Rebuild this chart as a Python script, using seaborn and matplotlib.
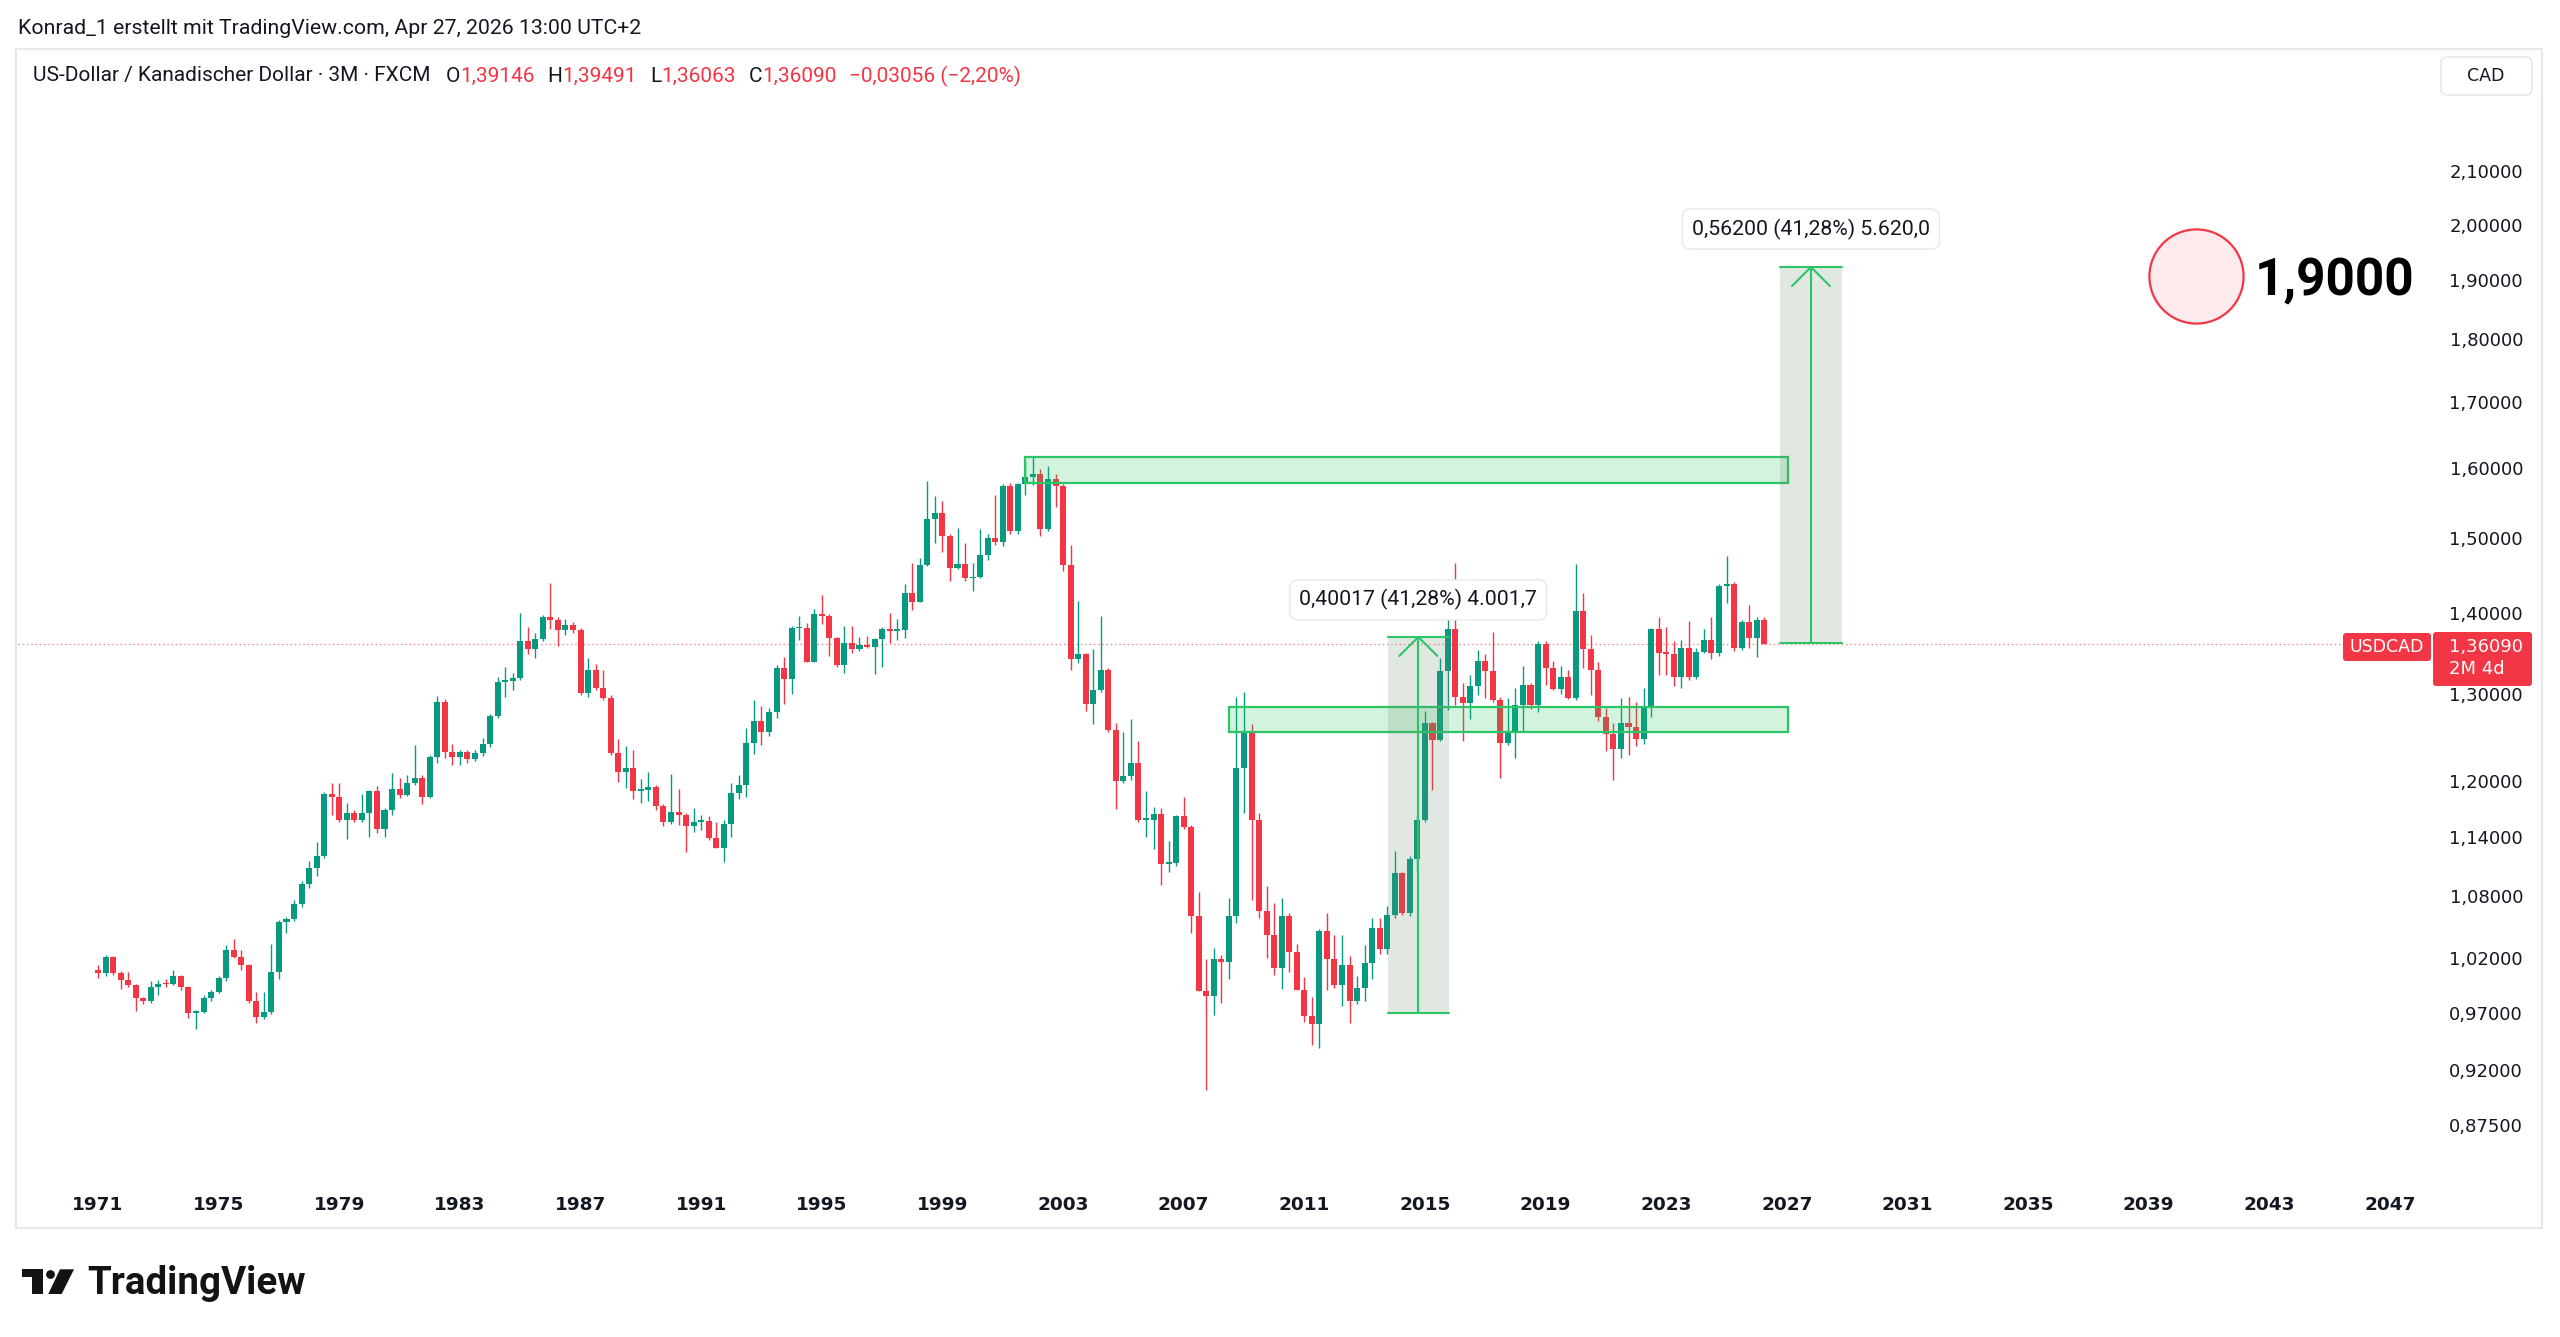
import numpy as np
import pandas as pd
import seaborn as sns
import matplotlib
matplotlib.use("Agg")
import matplotlib.pyplot as plt
import matplotlib.transforms as mtransforms
from matplotlib.patches import Rectangle, Polygon, Circle, FancyBboxPatch
from matplotlib.ticker import FixedLocator, NullLocator

W, H = 2560, 1337

# ---- data: USDCAD, quarterly candles from 1971 Q1 ----
start_year = 1971
first_open = 1.0087
closes = [
    1.0057, 1.0205, 1.0062, 0.9995, 0.9949, 0.9829, 0.9808, 0.9927, 0.9961, 0.9955,
    1.0028, 0.9927, 0.9698, 0.9705, 0.9835, 0.9885, 1.0013, 1.0273, 1.0211, 1.0137,
    0.9808, 0.9658, 0.9704, 1.0065, 1.0544, 1.0571, 1.0714, 1.0916, 1.1080, 1.1200,
    1.1860, 1.1828, 1.1578, 1.1648, 1.1578, 1.1655, 1.1890, 1.1478, 1.1684, 1.1914,
    1.1850, 1.1973, 1.2037, 1.1828, 1.2270, 1.2898, 1.2326, 1.2263, 1.2320, 1.2245,
    1.2310, 1.2410, 1.2737, 1.3140, 1.3150, 1.3184, 1.3649, 1.3540, 1.3671, 1.3944,
    1.3911, 1.3780, 1.3850, 1.3780, 1.3012, 1.3286, 1.3073, 1.2953, 1.2316, 1.2095,
    1.2139, 1.1893, 1.1900, 1.1937, 1.1731, 1.1552, 1.1659, 1.1630, 1.1513, 1.1560,
    1.1565, 1.1383, 1.1286, 1.1534, 1.1864, 1.1954, 1.2421, 1.2678, 1.2554, 1.2787,
    1.3307, 1.3177, 1.3805, 1.3810, 1.3388, 1.3983, 1.3960, 1.3678, 1.3348, 1.3616,
    1.3546, 1.3600, 1.3575, 1.3672, 1.3797, 1.3770, 1.3780, 1.4256, 1.4147, 1.4632,
    1.5258, 1.5342, 1.5031, 1.4596, 1.4641, 1.4453, 1.4470, 1.4767, 1.5004, 1.4940,
    1.5737, 1.5095, 1.5755, 1.5868, 1.5905, 1.5123, 1.5833, 1.5732, 1.4632, 1.3426,
    1.3478, 1.2880, 1.3045, 1.3285, 1.2569, 1.1998, 1.2059, 1.2200, 1.1578, 1.1580,
    1.1637, 1.1117, 1.1130, 1.1615, 1.1503, 1.0604, 0.9897, 0.9847, 1.0194, 1.0160,
    1.0604, 1.2144, 1.2560, 1.1578, 1.0644, 1.0420, 1.0110, 1.0600, 1.0256, 0.9904,
    0.9670, 0.9595, 1.0456, 1.0186, 0.9950, 1.0134, 0.9805, 0.9920, 1.0150, 1.0487,
    1.0280, 1.0609, 1.1023, 1.0630, 1.1167, 1.1577, 1.2652, 1.2459, 1.3275, 1.3792,
    1.2965, 1.2886, 1.3092, 1.3400, 1.3278, 1.2925, 1.2429, 1.2555, 1.2866, 1.3104,
    1.2866, 1.3607, 1.3308, 1.3053, 1.3205, 1.2946, 1.4031, 1.3541, 1.3287, 1.2721,
    1.2525, 1.2357, 1.2652, 1.2606, 1.2465, 1.2846, 1.3792, 1.3500, 1.3480, 1.3197,
    1.3553, 1.3197, 1.3512, 1.3658, 1.3494, 1.4357, 1.4380, 1.3553, 1.3889, 1.3679,
    1.3915, 1.36090,
]
highs = [
    1.0133, 1.0228, 1.0215, 1.0080, 1.0068, 0.9960, 0.9840, 0.9987, 0.9998, 1.0000,
    1.0087, 1.0040, 0.9940, 0.9720, 0.9860, 0.9900, 1.0030, 1.0322, 1.0375, 1.0273,
    1.0145, 0.9883, 0.9883, 1.0332, 1.0560, 1.0590, 1.0757, 1.0950, 1.1150, 1.1340,
    1.1880, 1.1980, 1.1980, 1.1755, 1.1680, 1.1860, 1.1900, 1.1944, 1.1700, 1.2083,
    1.2028, 1.2070, 1.2398, 1.2060, 1.2290, 1.2973, 1.2935, 1.2418, 1.2350, 1.2340,
    1.2340, 1.2486, 1.2760, 1.3204, 1.3318, 1.3250, 1.3996, 1.3818, 1.3740, 1.3980,
    1.4386, 1.3944, 1.3920, 1.3880, 1.3810, 1.3430, 1.3356, 1.3287, 1.2980, 1.2472,
    1.2395, 1.2350, 1.2016, 1.2095, 1.1960, 1.1745, 1.2076, 1.1906, 1.1650, 1.1700,
    1.1630, 1.1620, 1.1550, 1.1580, 1.1980, 1.2065, 1.2592, 1.2926, 1.2850, 1.2830,
    1.3348, 1.3450, 1.3830, 1.3962, 1.3870, 1.4045, 1.4233, 1.3990, 1.3700, 1.3840,
    1.3830, 1.3700, 1.3710, 1.3680, 1.3820, 1.3997, 1.3920, 1.4378, 1.4654, 1.4721,
    1.5809, 1.5589, 1.5520, 1.5060, 1.5142, 1.4925, 1.4660, 1.5120, 1.5050, 1.5603,
    1.5760, 1.5780, 1.5775, 1.6100, 1.6150, 1.5975, 1.6023, 1.5900, 1.5760, 1.4903,
    1.4154, 1.3500, 1.3543, 1.3956, 1.3310, 1.2650, 1.2545, 1.2700, 1.2450, 1.1890,
    1.1720, 1.1700, 1.1360, 1.1630, 1.1826, 1.1520, 1.0832, 1.0194, 1.0290, 1.0230,
    1.0780, 1.2966, 1.3017, 1.2640, 1.1650, 1.0900, 1.0730, 1.0780, 1.0630, 1.0330,
    1.0020, 0.9840, 1.0470, 1.0633, 1.0420, 1.0420, 1.0220, 1.0030, 1.0320, 1.0580,
    1.0580, 1.0700, 1.1255, 1.1040, 1.1195, 1.1630, 1.2796, 1.2670, 1.3430, 1.3974,
    1.4654, 1.3130, 1.3220, 1.3530, 1.3480, 1.3763, 1.2960, 1.2950, 1.3070, 1.3330,
    1.3130, 1.3650, 1.3650, 1.3400, 1.3340, 1.3290, 1.4640, 1.4265, 1.3720, 1.3390,
    1.2830, 1.2650, 1.2950, 1.2960, 1.2900, 1.3070, 1.3810, 1.3950, 1.3817, 1.3650,
    1.3660, 1.3900, 1.3560, 1.3790, 1.3950, 1.4375, 1.4757, 1.4400, 1.3910, 1.4103,
    1.3950, 1.39491,
]
lows = [
    1.0010, 1.0030, 1.0040, 0.9910, 0.9930, 0.9717, 0.9780, 0.9790, 0.9858, 0.9930,
    0.9945, 0.9900, 0.9656, 0.9553, 0.9695, 0.9805, 0.9875, 0.9990, 1.0195, 1.0087,
    0.9790, 0.9605, 0.9640, 0.9690, 1.0000, 1.0432, 1.0550, 1.0690, 1.0880, 1.1000,
    1.1180, 1.1630, 1.1550, 1.1373, 1.1550, 1.1560, 1.1400, 1.1440, 1.1400, 1.1630,
    1.1810, 1.1830, 1.1950, 1.1744, 1.1810, 1.2200, 1.2260, 1.2180, 1.2180, 1.2200,
    1.2220, 1.2280, 1.2380, 1.2710, 1.2960, 1.3050, 1.3170, 1.3480, 1.3430, 1.3650,
    1.3790, 1.3581, 1.3720, 1.3740, 1.2990, 1.2960, 1.3050, 1.2920, 1.2290, 1.1985,
    1.1919, 1.1802, 1.1763, 1.1780, 1.1680, 1.1510, 1.1530, 1.1520, 1.1245, 1.1450,
    1.1470, 1.1370, 1.1280, 1.1142, 1.1400, 1.1800, 1.1820, 1.2300, 1.2400, 1.2500,
    1.2710, 1.2880, 1.3000, 1.3660, 1.3380, 1.3380, 1.3860, 1.3462, 1.3320, 1.3250,
    1.3500, 1.3520, 1.3560, 1.3240, 1.3326, 1.3620, 1.3660, 1.3680, 1.4040, 1.4140,
    1.4620, 1.4935, 1.4804, 1.4417, 1.4580, 1.4420, 1.4291, 1.4460, 1.4700, 1.4900,
    1.4890, 1.5050, 1.5050, 1.5600, 1.5750, 1.5030, 1.5100, 1.5424, 1.4550, 1.3288,
    1.3370, 1.2800, 1.2641, 1.3020, 1.2550, 1.1691, 1.1980, 1.2010, 1.1550, 1.1400,
    1.1270, 1.0902, 1.1040, 1.1100, 1.1480, 1.0437, 0.9890, 0.9036, 0.9675, 0.9790,
    1.0000, 1.0530, 1.1650, 1.0758, 1.0580, 1.0200, 1.0040, 0.9910, 1.0070, 0.9900,
    0.9620, 0.9412, 0.9390, 0.9900, 0.9920, 0.9758, 0.9612, 0.9780, 0.9800, 1.0000,
    1.0240, 1.0240, 1.0580, 1.0610, 1.0600, 1.1050, 1.1550, 1.1900, 1.2450, 1.2810,
    1.2870, 1.2442, 1.2700, 1.2990, 1.2950, 1.2900, 1.2028, 1.2400, 1.2250, 1.2550,
    1.2820, 1.2780, 1.3100, 1.3040, 1.3000, 1.2940, 1.2930, 1.3316, 1.2990, 1.2680,
    1.2338, 1.2010, 1.2260, 1.2290, 1.2390, 1.2410, 1.2730, 1.3230, 1.3230, 1.3090,
    1.3070, 1.3160, 1.3180, 1.3500, 1.3420, 1.3460, 1.4125, 1.3520, 1.3530, 1.3560,
    1.3449, 1.36063,
]
last_price = 1.36090

price_ticks = [2.10, 2.00, 1.90, 1.80, 1.70, 1.60, 1.50, 1.40, 1.30, 1.20,
               1.14, 1.08, 1.02, 0.97, 0.92, 0.875]
year_ticks = list(range(1971, 2048, 4))

# drawings (time in years, price)
zones = [(2001.74, 2027.04, 1.5775, 1.6155),
         (2008.50, 2027.04, 1.2549, 1.2842)]
measures = [
    (2013.76, 2015.80, 0.96939, 1.36956, "0,40017 (41,28%) 4.001,7", 1.4169),
    (2026.77, 2028.83, 1.36140, 1.92340, "0,56200 (41,28%) 5.620,0", 1.9918),
]
target_t, target_p, target_text = 2040.56, 1.907, "1,9000"

UP = "#089981"
DOWN = "#F23645"
TEXT = "#131722"
ZONE = "#2BC466"

sns.set_theme(style="white")
plt.rcParams["font.family"] = ["Roboto", "DejaVu Sans"]

fig = plt.figure(figsize=(W / 100, H / 100), dpi=100)
fig.patch.set_facecolor("white")
PIX = mtransforms.IdentityTransform()

# chart pane
AX_L, AX_R, AX_T, AX_B = 18, 2540, 49, 1190
ax = fig.add_axes([AX_L / W, 1 - AX_B / H, (AX_R - AX_L) / W, (AX_B - AX_T) / H])
ax.set_facecolor("white")
ax.set_yscale("log")
ax.set_xlim(1968.347, 2051.974)
ax.set_ylim(0.8242, 2.3498)
for s in ax.spines.values():
    s.set_visible(False)
ax.grid(False)

df = pd.DataFrame({"high": highs, "low": lows, "close": closes})
df["open"] = [first_open] + closes[:-1]
df["t"] = start_year + np.arange(len(df)) * 0.25
rising = df["close"] >= df["open"]
cols = np.where(rising, UP, DOWN)

ax.vlines(df["t"], df["low"], df["high"], colors=cols, linewidth=1.0, zorder=3)
body_low = np.minimum(df["open"], df["close"])
body_h = np.maximum((df["close"] - df["open"]).abs(), df["open"] * 0.0016)
ax.bar(df["t"], body_h, bottom=body_low, width=0.2, color=cols, linewidth=0, zorder=4)

# last price dotted line
ax.axhline(last_price, xmin=0, xmax=(2343 - AX_L) / (AX_R - AX_L), color=DOWN,
           lw=0.9, ls=(0, (1.2, 2.2)), alpha=0.6, zorder=2)

# zones
for t0, t1, p0, p1 in zones:
    ax.add_patch(Rectangle((t0, p0), t1 - t0, p1 - p0, facecolor=(0.133, 0.773, 0.369, 0.2),
                           edgecolor=ZONE, lw=1.6, zorder=5))

# price range measures
for t0, t1, base, top, label, lab_p in measures:
    tm = (t0 + t1) / 2
    ax.add_patch(Rectangle((t0, base), t1 - t0, top - base,
                           facecolor=(0.42, 0.55, 0.42, 0.2), edgecolor="none", zorder=5))
    ax.plot([t0, t1], [top, top], color=ZONE, lw=1.5, zorder=6)
    ax.plot([t0, t1], [base, base], color=ZONE, lw=1.5, zorder=6)
    ax.plot([tm, tm], [base, top], color=ZONE, lw=1.5, zorder=6)
    ax.plot([tm - 0.63, tm, tm + 0.63], [top * 0.9827, top, top * 0.9827],
            color=ZONE, lw=1.5, zorder=6, solid_capstyle="round")
    ax.text(tm, lab_p, label, ha="center", va="center", fontsize=15.3, color=TEXT, zorder=9,
            bbox=dict(boxstyle="round,pad=0.45,rounding_size=0.4", fc="white",
                      ec="#e3e3e3", lw=0.8))

# target circle
ax.scatter([target_t], [target_p], s=4600, facecolor="#fdeaec", edgecolor=DOWN,
           linewidth=1.6, zorder=7)
ax.text(target_t + 1.96, 1.8747, target_text, ha="left", va="baseline", fontsize=37,
        fontweight="bold", color="black", zorder=8)

# axes ticks
ax.yaxis.set_major_locator(FixedLocator(price_ticks))
ax.yaxis.set_minor_locator(NullLocator())
ax.set_yticklabels([f"{v:.5f}".replace(".", ",") for v in price_ticks])
ax.yaxis.tick_right()
ax.tick_params(axis="y", length=0, pad=-12.2, labelsize=13, labelcolor=TEXT)
for lab in ax.get_yticklabels():
    lab.set_horizontalalignment("right")
    lab.set_family("DejaVu Sans")

ax.set_xticks(year_ticks)
ax.set_xticklabels([str(y) for y in year_ticks])
ax.xaxis.set_minor_locator(NullLocator())
ax.tick_params(axis="x", length=0, pad=4.5, labelsize=13.3, labelcolor=TEXT)
for lab in ax.get_xticklabels():
    lab.set_fontweight("bold")
    lab.set_family("DejaVu Sans")

# pane border
fig.add_artist(Rectangle((16, H - 1228), 2542 - 16, 1228 - 49, transform=PIX,
                         fill=False, ec="#e0e3eb", lw=1.2))


def px_box(x0, y0, x1, y1, fc, ec="none", r=3, lw=1.0):
    fig.add_artist(FancyBboxPatch((x0, H - y1), x1 - x0, y1 - y0,
                                  boxstyle=f"round,pad=0,rounding_size={r}",
                                  transform=PIX, fc=fc, ec=ec, lw=lw))


def px_text(x, y, s, **kw):
    return fig.text(x / W, 1 - y / H, s, **kw)


# CAD box
px_box(2441, 57, 2532, 95, "white", ec="#e0e3eb", r=6)
px_text(2486, 76, "CAD", ha="center", va="center", fontsize=12.5, color=TEXT,
        family="DejaVu Sans")

# USDCAD / last price labels
px_box(2343, 633, 2431, 661, DOWN, r=3)
px_text(2387, 647, "USDCAD", ha="center", va="center", fontsize=12.5, color="white",
        family="DejaVu Sans")
px_box(2433, 632, 2532, 686, DOWN, r=3)
px_text(2449, 647, f"{last_price:.5f}".replace(".", ","), ha="left", va="center",
        fontsize=13, color="white", family="DejaVu Sans")
px_text(2449, 669, "2M 4d", ha="left", va="center", fontsize=13, color="white",
        family="DejaVu Sans")

# header
px_text(18, 28, "Konrad_1 erstellt mit TradingView.com, Apr 27, 2026 13:00 UTC+2",
        ha="left", va="center", fontsize=15.3, color=TEXT)

renderer = fig.canvas.get_renderer()
pieces = [("US-Dollar / Kanadischer Dollar · 3M · FXCM", TEXT, 15),
          ("O", TEXT, 0), ("1,39146", DOWN, 13),
          ("H", TEXT, 0), ("1,39491", DOWN, 13),
          ("L", TEXT, 0), ("1,36063", DOWN, 13),
          ("C", TEXT, 0), ("1,36090", DOWN, 13),
          ("−0,03056 (−2,20%)", DOWN, 0)]
x = 33
for s, c, gap in pieces:
    t = px_text(x, 76, s, ha="left", va="center", fontsize=15, color=c)
    x += t.get_window_extent(renderer).width + gap

# TradingView logo
logo_t = [(21.7, 1269.3), (43.3, 1269.3), (43.3, 1294), (32.3, 1294), (32.3, 1277.3), (21.7, 1277.3)]
logo_s = [(60, 1269.3), (74, 1269.3), (61.7, 1294), (48.3, 1294)]
fig.add_artist(Polygon([(a, H - b) for a, b in logo_t], closed=True, transform=PIX, fc="#131313", ec="none"))
fig.add_artist(Polygon([(a, H - b) for a, b in logo_s], closed=True, transform=PIX, fc="#131313", ec="none"))
fig.add_artist(Circle((50.5, H - 1274.5), 4.4, transform=PIX, fc="#131313", ec="none"))
px_text(87, 1294, "TradingView", ha="left", va="baseline", fontsize=27.7, fontweight="bold",
        color="#131313")

fig.savefig("out.png", dpi=100, facecolor="white")
